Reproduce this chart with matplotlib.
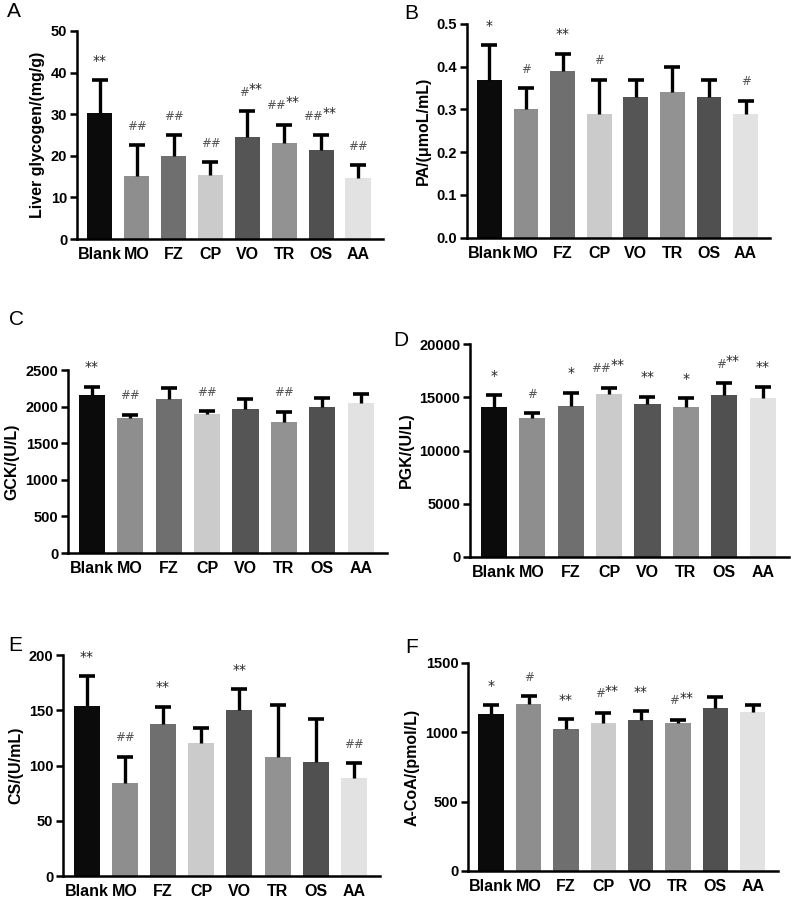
import matplotlib
matplotlib.use("Agg")
import matplotlib.pyplot as plt

plt.rcParams['font.family'] = ['Liberation Sans', 'DejaVu Sans']

groups = ["Blank", "MO", "FZ", "CP", "VO", "TR", "OS", "AA"]
colors = ["#0b0b0b", "#8e8e8e", "#6f6f6f", "#cbcbcb", "#555555", "#929292", "#505050", "#e2e2e2"]

# Panel A: Liver glycogen
glyc_mean = [30.3, 15.2, 20.0, 15.4, 24.6, 23.1, 21.4, 14.7]
glyc_err = [7.9, 7.3, 5.0, 3.1, 6.1, 4.4, 3.5, 3.0]
glyc_hash = ["", "##", "##", "##", "#", "##", "##", "##"]
glyc_star = ["**", "", "", "", "**", "**", "**", ""]

# Panel B: PA
pa_mean = [0.37, 0.30, 0.39, 0.29, 0.33, 0.34, 0.33, 0.29]
pa_err = [0.08, 0.05, 0.04, 0.08, 0.04, 0.06, 0.04, 0.03]
pa_hash = ["", "#", "", "#", "", "", "", "#"]
pa_star = ["*", "", "**", "", "", "", "", ""]

# Panel C: GCK
gck_mean = [2160, 1840, 2100, 1900, 1970, 1790, 2000, 2050]
gck_err = [110, 50, 160, 40, 130, 140, 120, 120]
gck_hash = ["", "##", "", "##", "", "##", "", ""]
gck_star = ["**", "", "", "", "", "", "", ""]

# Panel D: PGK
pgk_mean = [14100, 13050, 14200, 15300, 14400, 14100, 15200, 14900]
pgk_err = [1100, 450, 1200, 600, 650, 800, 1100, 1100]
pgk_hash = ["", "#", "", "##", "", "", "#", ""]
pgk_star = ["*", "", "*", "**", "**", "*", "**", "**"]

# Panel E: CS
cs_mean = [154, 84, 138, 120, 150, 108, 103, 89]
cs_err = [27, 24, 15, 14, 19, 47, 39, 13]
cs_hash = ["", "##", "", "", "", "", "", "##"]
cs_star = ["**", "", "**", "", "**", "", "", ""]

# Panel F: A-CoA
acoa_mean = [1135, 1205, 1025, 1065, 1090, 1065, 1175, 1145]
acoa_err = [60, 55, 70, 75, 60, 25, 80, 50]
acoa_hash = ["", "#", "", "#", "", "#", "", ""]
acoa_star = ["*", "", "**", "**", "**", "**", "", ""]

W, H = 791, 901
fig = plt.figure(figsize=(W / 100, H / 100), dpi=100)

panels = [
    ("A", (7, 2), [0.0973, 0.7347, 0.387, 0.2309], glyc_mean, glyc_err, glyc_hash, glyc_star,
     "Liver glycogen/(mg/g)", (0, 50), [0, 10, 20, 30, 40, 50], "{:.0f}"),
    ("B", (404, 4), [0.590, 0.7362, 0.384, 0.2372], pa_mean, pa_err, pa_hash, pa_star,
     "PA/(μmoL/mL)", (0, 0.5), [0, 0.1, 0.2, 0.3, 0.4, 0.5], "{:.1f}"),
    ("C", (9, 310), [0.086, 0.3862, 0.403, 0.2031], gck_mean, gck_err, gck_hash, gck_star,
     "GCK/(U/L)", (0, 2500), [0, 500, 1000, 1500, 2000, 2500], "{:.0f}"),
    ("D", (393, 331), [0.5942, 0.3818, 0.403, 0.2364], pgk_mean, pgk_err, pgk_hash, pgk_star,
     "PGK/(U/L)", (0, 20000), [0, 5000, 10000, 15000, 20000], "{:.0f}"),
    ("E", (8, 636), [0.0796, 0.0277, 0.4008, 0.2453], cs_mean, cs_err, cs_hash, cs_star,
     "CS/(U/mL)", (0, 200), [0, 50, 100, 150, 200], "{:.0f}"),
    ("F", (405, 638), [0.5917, 0.0333, 0.392, 0.2309], acoa_mean, acoa_err, acoa_hash, acoa_star,
     "A-CoA/(pmol/L)", (0, 1500), [0, 500, 1000, 1500], "{:.0f}"),
]

for letter, lpos, rect, mean, err, hashes, stars, ylabel, ylim, yticks, fmt in panels:
    ax = fig.add_axes(rect)
    x = list(range(len(groups)))
    tops = [m + e for m, e in zip(mean, err)]
    ax.bar(x, mean, width=0.68, color=colors, zorder=2)
    ax.vlines(x, mean, tops, colors="black", linewidth=2.4, zorder=3)
    ax.plot(x, tops, ls="none", marker="_", markersize=11, mew=2.6, color="black", zorder=3)
    ax.set_xlim(-0.62, 7.68)
    ax.set_ylim(*ylim)
    ax.set_yticks(yticks)
    ax.set_yticklabels([fmt.format(t) for t in yticks], fontsize=10.5, fontweight="bold")
    ax.set_xticks(x)
    ax.set_xticklabels(groups, fontsize=11.5, fontweight="bold")
    ax.tick_params(axis="x", length=0, pad=6)
    ax.tick_params(axis="y", length=5, width=1.8, pad=2)
    for s in ["top", "right"]:
        ax.spines[s].set_visible(False)
    for s in ["left", "bottom"]:
        ax.spines[s].set_linewidth(1.8)
    ax.set_ylabel(ylabel, fontsize=11.5, fontweight="bold", labelpad=4)
    fig.text(lpos[0] / W, 1 - lpos[1] / H, letter, fontsize=15, ha="left", va="top")
    for i in x:
        top = tops[i]
        h, st = hashes[i], stars[i]
        if h and st:
            ax.annotate(h, (i, top), xytext=(1, 9), textcoords="offset points",
                        ha="right", va="bottom", fontsize=8.5, color="#555555",
                        family="DejaVu Sans")
            ax.annotate(st, (i, top), xytext=(1, 11), textcoords="offset points",
                        ha="left", va="bottom", fontsize=10, color="#222222",
                        family="DejaVu Sans")
        elif h:
            ax.annotate(h, (i, top), xytext=(0, 9), textcoords="offset points",
                        ha="center", va="bottom", fontsize=8.5, color="#555555",
                        family="DejaVu Sans")
        elif st:
            ax.annotate(st, (i, top), xytext=(0, 9), textcoords="offset points",
                        ha="center", va="bottom", fontsize=10, color="#222222",
                        family="DejaVu Sans")

fig.savefig("out.png", dpi=100)
